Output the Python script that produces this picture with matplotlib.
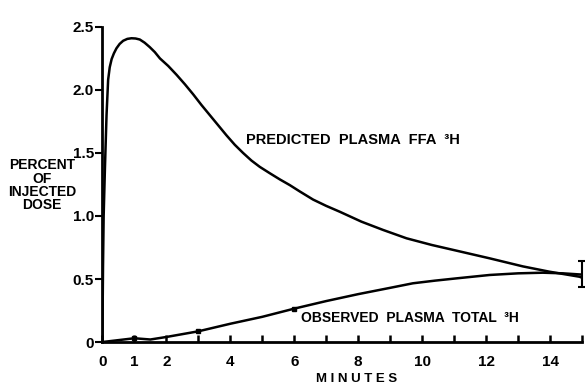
import matplotlib
matplotlib.use("Agg")
import matplotlib.pyplot as plt

# Predicted plasma FFA 3H (percent of injected dose)
pred_t = [0, 0.02, 0.04, 0.08, 0.13, 0.18, 0.23, 0.29, 0.36, 0.44, 0.54, 0.65, 0.78, 0.91, 1.04, 1.17, 1.32, 1.48, 1.64, 1.8,
          2.06, 2.32, 2.58, 2.84, 3.1, 3.36, 3.62, 3.88, 4.14, 4.4, 4.66, 4.92, 5.23, 5.55, 5.86, 6.17, 6.59, 7.0, 7.42,
          8.1, 8.78, 9.51, 10.3, 11.07, 12.11, 13.15, 13.98, 14.92, 15]
pred_v = [0, 0.6, 1.0, 1.38, 1.8, 2.08, 2.18, 2.245, 2.29, 2.33, 2.365, 2.39, 2.405, 2.41, 2.408, 2.40, 2.375, 2.34, 2.3, 2.25,
          2.19, 2.12, 2.045, 1.965, 1.88, 1.80, 1.72, 1.64, 1.565, 1.50, 1.44, 1.39, 1.34, 1.29, 1.245, 1.195, 1.13, 1.08, 1.034,
          0.955, 0.889, 0.823, 0.77, 0.725, 0.664, 0.60, 0.558, 0.518, 0.51]

# Observed plasma total 3H
obs_t = [0, 1, 1.5, 2, 3, 4, 5, 6, 7, 8, 9, 9.71, 10.4, 11.07, 12.11, 13.0, 13.77, 14.4, 15]
obs_v = [0, 0.03, 0.02, 0.04, 0.085, 0.145, 0.2, 0.265, 0.325, 0.38, 0.43, 0.466, 0.487, 0.505, 0.532, 0.545, 0.55, 0.545, 0.535]
obs_marker_t = [1, 3, 6]
obs_marker_v = [0.03, 0.085, 0.265]
err_t = [15]
err_v = [0.54]
err_e = [0.1]

x_major = [0, 1, 2, 4, 6, 8, 10, 12, 14]
x_minor = [3, 5, 7, 9, 11, 13, 15]
y_ticks = [0, 0.5, 1.0, 1.5, 2.0, 2.5]
y_labels = ["0", "0.5", "1.0", "1.5", "2.0", "2.5"]

FONT = ["Liberation Sans Narrow", "Liberation Sans", "DejaVu Sans"]
plt.rcParams['font.family'] = FONT

fig = plt.figure(figsize=(5.85, 3.9), dpi=100)
ax = fig.add_axes([0.175, 0.123, 0.82, 0.808])

ax.plot(pred_t, pred_v, color="black", lw=1.8, solid_joinstyle="round", solid_capstyle="round")
ax.plot(obs_t, obs_v, color="black", lw=1.8, solid_joinstyle="round")
ax.plot(obs_marker_t, obs_marker_v, "s", color="black", ms=3.5)
ax.errorbar(err_t, err_v, yerr=err_e, fmt="none", ecolor="black", elinewidth=1.5, capsize=3, capthick=1.5, clip_on=False)

ax.set_xlim(0, 15)
ax.set_ylim(0, 2.5)
for s in ["top", "right"]:
    ax.spines[s].set_visible(False)
for s in ["left", "bottom"]:
    ax.spines[s].set_linewidth(2)

ax.set_xticks(x_major)
ax.set_xticklabels([str(v) for v in x_major], fontsize=11, fontweight="bold")
ax.set_xticks(x_minor, minor=True)
ax.tick_params(axis="x", which="both", direction="in", length=5, width=1.8, pad=9)
ax.set_yticks(y_ticks)
ax.set_yticklabels(y_labels, fontsize=11, fontweight="bold")
ax.tick_params(axis="y", direction="out", length=5, width=1.5, pad=1)

ax.set_xlabel("M I N U T E S", fontsize=9.5, fontweight="bold")
ax.xaxis.set_label_coords(0.53, -0.098)

fig.text(0.072, 0.525, "PERCENT\nOF\nINJECTED\nDOSE", ha="center", va="center",
         fontsize=10, fontweight="bold", linespacing=0.95)

ax.text(4.5, 1.6, "PREDICTED  PLASMA  FFA  ³H", fontsize=10.5, fontweight="bold", va="center", ha="left")
ax.text(6.2, 0.19, "OBSERVED  PLASMA  TOTAL  ³H", fontsize=10, fontweight="bold", va="center", ha="left")

fig.savefig("out.png", dpi=100)
